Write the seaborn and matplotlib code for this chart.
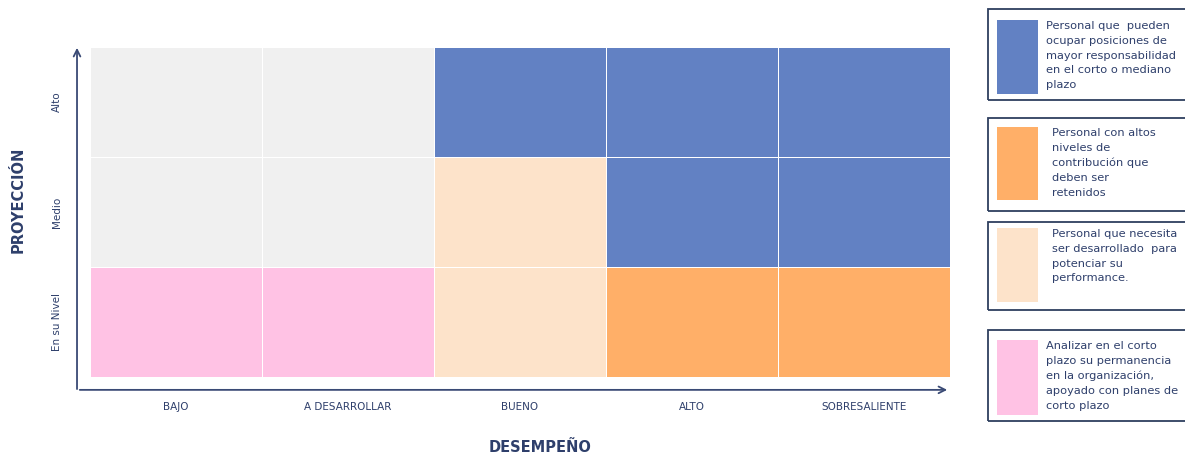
import matplotlib
matplotlib.use("Agg")
import matplotlib.pyplot as plt
from matplotlib.colors import ListedColormap
from matplotlib.patches import Rectangle
import seaborn as sns
import pandas as pd

sns.set_theme(style="white")
plt.rcParams['font.family'] = ['DejaVu Sans']

# ---- data ----
rows = ["Alto", "Medio", "En su Nivel"]
cols = ["BAJO", "A DESARROLLAR", "BUENO", "ALTO", "SOBRESALIENTE"]
categories = ["sin_grupo", "promover", "retener", "desarrollar", "analizar"]
cat_colors = ["#F0F0F0", "#6281C3", "#FFAF68", "#FDE3CA", "#FFC2E4"]
grid = [
    ["sin_grupo", "sin_grupo", "promover", "promover", "promover"],
    ["sin_grupo", "sin_grupo", "desarrollar", "promover", "promover"],
    ["analizar", "analizar", "desarrollar", "retener", "retener"],
]
legend_cats = ["promover", "retener", "desarrollar", "analizar"]
legend_texts = [
    "Personal que  pueden\nocupar posiciones de\nmayor responsabilidad\nen el corto o mediano\nplazo",
    "Personal con altos\nniveles de\ncontribución que\ndeben ser\nretenidos",
    "Personal que necesita\nser desarrollado  para\npotenciar su\nperformance.",
    "Analizar en el corto\nplazo su permanencia\nen la organización,\napoyado con planes de\ncorto plazo",
]
xlabel = "DESEMPEÑO"
ylabel = "PROYECCIÓN"

TEXT = "#2E3F6B"
W, H = 1185, 457

codes = pd.DataFrame([[categories.index(c) for c in r] for r in grid], index=rows, columns=cols)

fig = plt.figure(figsize=(W / 100, H / 100), dpi=100)
ax = fig.add_axes([90 / W, (H - 377) / H, 860 / W, 330 / H])
sns.heatmap(codes, ax=ax, cmap=ListedColormap(cat_colors), vmin=-0.5, vmax=len(categories) - 0.5,
            cbar=False, linewidths=0.6, linecolor="white")

ax.tick_params(axis="both", length=0)
ax.tick_params(axis="x", pad=18, labelsize=7.5, labelcolor=TEXT)
ax.tick_params(axis="y", pad=20, labelsize=7.5, labelcolor=TEXT)
ax.set_xticklabels(cols, rotation=0)
ax.set_yticklabels(rows, rotation=90, va="center")
ax.set_xlabel("")
ax.set_ylabel("")
for s in ax.spines.values():
    s.set_visible(False)

# axis arrows
arrow_kw = dict(arrowstyle="->", color="#3A4A75", lw=1.3, mutation_scale=12)
ax.annotate("", xy=(-0.0151, 1.006), xytext=(-0.0151, -0.045), xycoords="axes fraction",
            textcoords="axes fraction", arrowprops=arrow_kw, annotation_clip=False)
ax.annotate("", xy=(1.0, -0.039), xytext=(-0.0151, -0.039), xycoords="axes fraction",
            textcoords="axes fraction", arrowprops=arrow_kw, annotation_clip=False)

# axis titles
fig.text(540 / W, 1 - 447 / H, xlabel, ha="center", va="center", fontsize=10.5,
         fontweight="bold", color=TEXT)
fig.text(18 / W, 1 - 200 / H, ylabel, ha="center", va="center", rotation=90, fontsize=10.5,
         fontweight="bold", color=TEXT)

# legend boxes
boxes = [(9, 100), (118, 211), (222, 310), (330, 421)]
swatch = [(20, 94), (127, 200), (228, 302), (340, 415)]
text_x = [1046, 1052, 1052, 1046]
for (bt, bb), (st, sb), cat, txt, tx in zip(boxes, swatch, legend_cats, legend_texts, text_x):
    fig.patches.append(Rectangle((988 / W, 1 - bb / H), 220 / W, (bb - bt) / H,
                                 transform=fig.transFigure, fill=False,
                                 edgecolor="#2E3F5F", lw=1.3, clip_on=False))
    fig.patches.append(Rectangle((997 / W, 1 - sb / H), 41 / W, (sb - st) / H,
                                 transform=fig.transFigure,
                                 facecolor=cat_colors[categories.index(cat)], edgecolor="none"))
    fig.text(tx / W, 1 - (st + 1) / H, txt, ha="left", va="top", fontsize=8.2,
             color=TEXT, linespacing=1.6)

fig.savefig("out.png", dpi=100, facecolor="white")
